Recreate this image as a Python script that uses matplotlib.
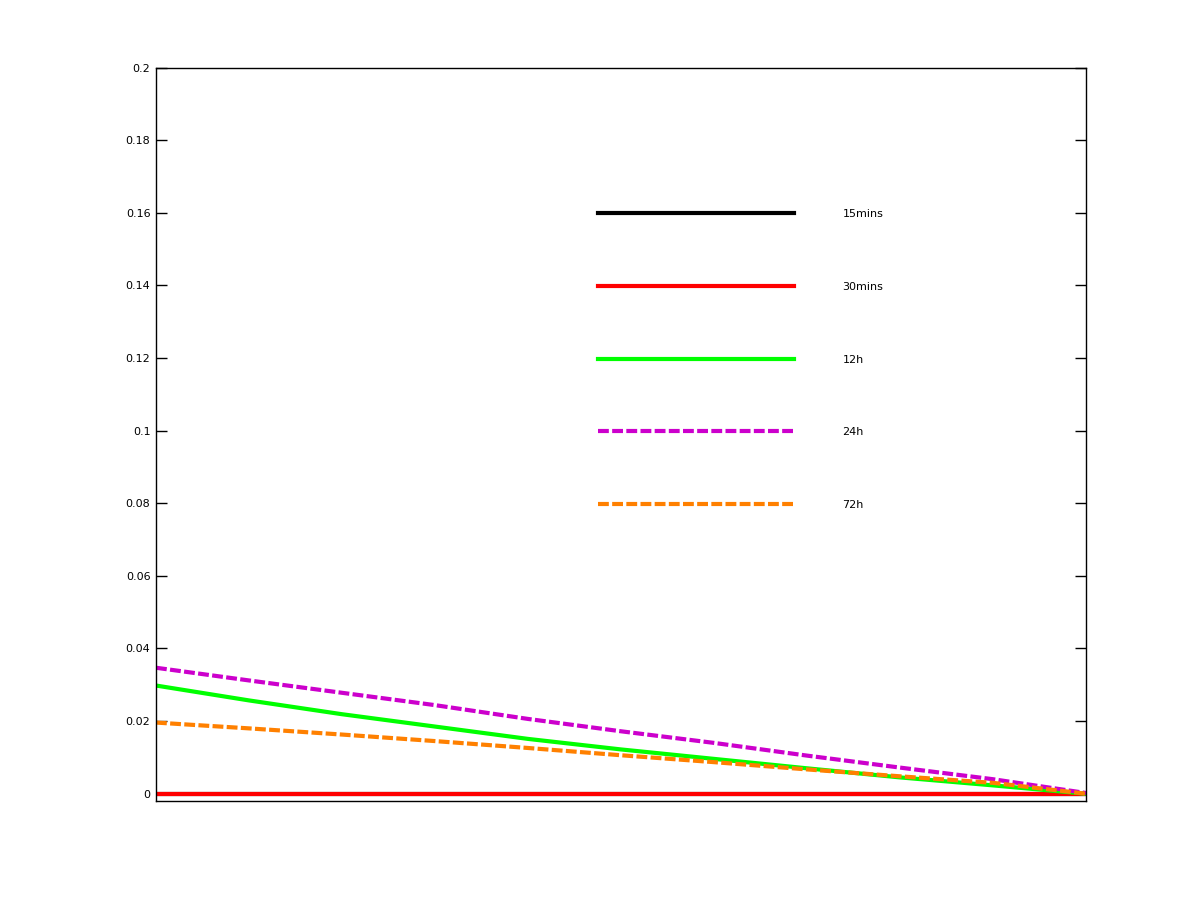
import numpy as np
from matplotlib import pyplot as plt

# data (x has no tick labels, so it is normalised 0..1)
x = [0.0, 0.1, 0.2, 0.3, 0.4, 0.5, 0.6, 0.7, 0.8, 0.9, 1.0]
v15min = [0.0, 0.0, 0.0, 0.0, 0.0, 0.0, 0.0, 0.0, 0.0, 0.0, 0.0]
v30min = [0.0, 0.0, 0.0, 0.0, 0.0, 0.0, 0.0, 0.0, 0.0, 0.0, 0.0]
v12h = [0.0298, 0.0257, 0.0219, 0.0185, 0.0151, 0.0122, 0.0096, 0.0070, 0.0045, 0.0023, 0.0]
v24h = [0.0347, 0.0312, 0.0278, 0.0244, 0.0206, 0.0172, 0.0140, 0.0105, 0.0072, 0.0040, 0.0002]
v72h = [0.0196, 0.0180, 0.0163, 0.0145, 0.0126, 0.0106, 0.0087, 0.0067, 0.0048, 0.0030, 0.0]
etiquetas = ['15mins', '30mins', '12h', '24h', '72h']
yticks = [0, 0.02, 0.04, 0.06, 0.08, 0.1, 0.12, 0.14, 0.16, 0.18, 0.2]

fig = plt.figure(figsize=(12, 9), dpi=100)
ax = fig.add_axes([0.13, 0.11, 0.775, 0.815])

ax.plot(x, v15min, color='black', lw=3, label=etiquetas[0])
ax.plot(x, v30min, color='#ff0000', lw=3, label=etiquetas[1])
ax.plot(x, v12h, color='#00ff00', lw=3, label=etiquetas[2])
ax.plot(x, v24h, color='#cc00cc', lw=3, dashes=(2.6, 0.8), dash_capstyle='butt', label=etiquetas[3])
ax.plot(x, v72h, color='#ff8000', lw=3, dashes=(2.6, 0.8), dash_capstyle='butt', label=etiquetas[4])

ax.set_xlim(0, 1)
ax.set_ylim(-0.002, 0.2)
ax.set_xticks([])
ax.set_yticks(yticks)
ax.set_yticklabels(['0', '0.02', '0.04', '0.06', '0.08', '0.1', '0.12', '0.14', '0.16', '0.18', '0.2'])
ax.tick_params(axis='y', direction='in', length=8, width=1, right=True, labelsize=8, pad=4)
for s in ax.spines.values():
    s.set_linewidth(1)

leg = ax.legend(loc='upper left', bbox_to_anchor=(598 / 1200, 1 - 209 / 900),
                bbox_transform=fig.transFigure, frameon=False, fontsize=8,
                handlelength=17.6, handletextpad=4.4, labelspacing=5.65,
                borderpad=0, borderaxespad=0)

plt.savefig('out.png', dpi=100)
